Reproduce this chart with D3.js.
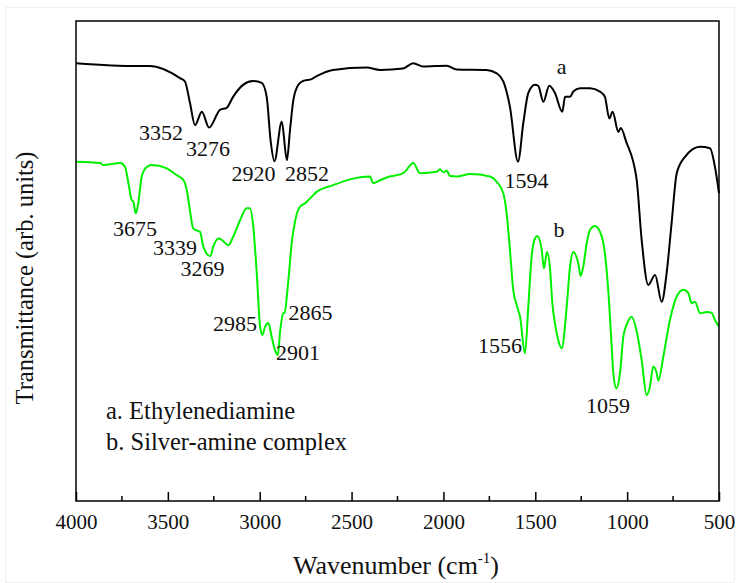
<!DOCTYPE html>
<html>
<head>
<meta charset="utf-8">
<script src="https://cdn.jsdelivr.net/npm/d3@7"></script>
<style>
  body { margin: 0; background: #fff; }
  svg text { font-family: "Liberation Serif", "Times New Roman", serif; fill: #111; }
</style>
</head>
<body>
<div id="graphic"></div>
<script>
// Spectrum a (ethylenediamine): [wavenumber, transmittance arb.]
const seriesA = [
  [4000, 91.2], [3668, 90.6], [3597, 90.6], [3434, 88.1], [3407, 87.4], [3380, 83],
  [3352, 78.3], [3315, 81.1], [3276, 77.8], [3216, 81.5], [3180, 81.9], [3145, 84.2],
  [3091, 86.7], [3037, 87.5], [2989, 87.1], [2962, 84.2], [2941, 75.2], [2920, 70.8],
  [2880, 79.0], [2852, 71.0], [2835, 77.3], [2817, 83.5], [2790, 86.7], [2764, 87.5],
  [2717, 87.9], [2690, 88.5], [2601, 89.8], [2418, 90.3], [2345, 89.8], [2220, 90.1],
  [2164, 91.2], [2111, 90.5], [1982, 90.7], [1928, 89.9], [1765, 89.8], [1710, 89.1],
  [1674, 87.4], [1638, 82.1], [1594, 70.7], [1565, 78.8], [1538, 85.0], [1502, 86.7],
  [1484, 86.5], [1456, 83.2], [1424, 86.5], [1393, 85.0], [1353, 81.1], [1338, 84.2],
  [1311, 84.2], [1293, 85.3], [1257, 86.0], [1202, 86.0], [1148, 85.3], [1121, 84.2],
  [1097, 79.7], [1079, 81.1], [1048, 76.9], [1035, 77.7], [1003, 74.6], [967, 70.7],
  [948, 66.9], [921, 54.4], [885, 45.0], [848, 47.1], [812, 41.5], [785, 47.5],
  [758, 57.9], [730, 68.3], [685, 71.7], [603, 73.8], [549, 73.5], [522, 69.6], [500, 64.1]
];

// Spectrum b (silver-amine complex)
const seriesB = [
  [4000, 70.7], [3869, 70.4], [3851, 70.0], [3760, 70.4], [3733, 69.6], [3715, 66.3],
  [3697, 62.7], [3688, 62.4], [3675, 59.9], [3661, 62.0], [3642, 67.6], [3615, 69.6],
  [3588, 70.0], [3506, 69.3], [3452, 67.9], [3416, 66.9], [3397, 64.8], [3379, 60.3],
  [3362, 56.8], [3339, 56.3], [3325, 56.1], [3307, 53.0], [3269, 51.0], [3253, 53.0],
  [3225, 54.7], [3207, 54.4], [3171, 53.3], [3144, 55.1], [3107, 58.5], [3071, 61.0],
  [3053, 61.0], [3035, 57.1], [3016, 47.4], [2998, 36.3], [2985, 34.6], [2971, 36.3],
  [2953, 37.1], [2935, 34.2], [2917, 31.5], [2901, 30.4], [2890, 34.9], [2872, 39.1],
  [2865, 39.2], [2844, 46.0], [2826, 53.7], [2808, 58.2], [2781, 61.3], [2754, 62.0],
  [2717, 63.4], [2690, 64.4], [2600, 65.8], [2509, 67.0], [2400, 67.6], [2382, 66.2],
  [2363, 66.5], [2309, 67.4], [2218, 68.3], [2164, 70.4], [2128, 68.3], [2037, 68.6],
  [2019, 69.1], [2001, 68.5], [1982, 68.8], [1964, 67.7], [1928, 67.6], [1855, 68.1],
  [1747, 67.6], [1710, 66.5], [1674, 64.1], [1656, 59.9], [1638, 52.3], [1620, 44.0],
  [1601, 40.8], [1583, 38.4], [1556, 30.8], [1538, 40.5], [1520, 50.9], [1502, 54.7],
  [1489, 55.2], [1465, 52.3], [1453, 48.5], [1436, 51.9], [1420, 48.5], [1407, 41.2],
  [1393, 37.0], [1375, 33.5], [1356, 31.8], [1329, 40.5], [1311, 48.8], [1293, 51.9],
  [1266, 49.5], [1253, 46.9], [1239, 48.8], [1220, 53.7], [1202, 56.5], [1175, 57.3],
  [1148, 56.1], [1121, 51.6], [1103, 44.0], [1084, 32.1], [1075, 26.6], [1059, 23.5],
  [1039, 26.6], [1021, 34.2], [1003, 36.7], [975, 38.4], [948, 35.3], [921, 29.4],
  [894, 22.1], [876, 23.8], [858, 28.0], [839, 26.6], [830, 25.1], [803, 30.1],
  [767, 37.7], [730, 42.6], [694, 44.0], [667, 43.3], [649, 41.2], [631, 41.5],
  [603, 39.1], [567, 39.4], [540, 39.2], [522, 37.7], [500, 36.3]
];

// Peak labels: [text, centre wavenumber of the label, baseline value]
const labelsA = [
  ["3352", 3537, 75.2], ["3276", 3282, 71.9],
  ["2920", 3034, 66.7], ["2852", 2743, 66.7],
  ["1594", 1548, 65.2], ["a", 1357, 89.0]
];
const labelsB = [
  ["3675", 3679, 55.2], ["3339", 3461, 51.25],
  ["3269", 3311, 46.9], ["2985", 3135, 35.4],
  ["2865", 2724, 37.7], ["2901", 2792, 29.4],
  ["1556", 1692, 30.8], ["b", 1371, 55.0],
  ["1059", 1104, 18.3]
];

const legendItems = ["a. Ethylenediamine", "b. Silver-amine complex"];
const xTicks = [4000, 3500, 3000, 2500, 2000, 1500, 1000, 500];

let width = 740, height = 583;
let plotLeft = 76, plotRight = 719, plotTop = 21, plotBottom = 501;

let svg = d3.select('#graphic').append('svg')
    .attr('width', width)
    .attr('height', height);

// faint outer border of the original image
svg.append('rect')
    .attr('x', 5.5).attr('y', 7.5)
    .attr('width', width - 11).attr('height', height - 8)
    .attr('fill', 'none').attr('stroke', '#f0f0f0');

let x = d3.scaleLinear().domain([4000, 500]).range([plotLeft, plotRight]);
let y = d3.scaleLinear().domain([0, 100]).range([plotBottom, plotTop]);

let line = d3.line()
    .x(d => x(d[0]))
    .y(d => y(d[1]))
    .curve(d3.curveMonotoneX);

svg.append('path').datum(seriesA)
    .attr('d', line)
    .attr('fill', 'none').attr('stroke', '#000').attr('stroke-width', 2);

svg.append('path').datum(seriesB)
    .attr('d', line)
    .attr('fill', 'none').attr('stroke', '#00f000').attr('stroke-width', 2);

// frame
svg.append('rect')
    .attr('x', plotLeft).attr('y', plotTop)
    .attr('width', plotRight - plotLeft).attr('height', plotBottom - plotTop)
    .attr('fill', 'none').attr('stroke', '#000').attr('stroke-width', 1.5);

// bottom axis with inward ticks
let axis = svg.append('g').attr('transform', `translate(0,${plotBottom})`);
axis.call(d3.axisBottom(x).tickValues(xTicks).tickSize(-9).tickFormat(d3.format('d')));
axis.select('.domain').remove();
axis.selectAll('.tick line').attr('stroke', '#000').attr('stroke-width', 1.5);
axis.selectAll('.tick text')
    .attr('y', 28).attr('dy', 0)
    .attr('fill', '#111')
    .style('font-size', '21px')
    .style('font-family', '"Liberation Serif", serif');

let minor = d3.range(3750, 500, -500);
svg.append('g').selectAll('line').data(minor).join('line')
    .attr('x1', d => x(d)).attr('x2', d => x(d))
    .attr('y1', plotBottom).attr('y2', plotBottom - 5)
    .attr('stroke', '#000').attr('stroke-width', 1.5);

function drawLabels(list) {
    svg.append('g').selectAll('text').data(list).join('text')
        .attr('x', d => x(d[1]))
        .attr('y', d => y(d[2]))
        .attr('text-anchor', 'middle')
        .style('font-size', '22px')
        .text(d => d[0]);
}
drawLabels(labelsA);
drawLabels(labelsB);

// legend text
svg.append('g').selectAll('text').data(legendItems).join('text')
    .attr('x', 106)
    .attr('y', (d, i) => 419 + i * 31)
    .style('font-size', '24.5px')
    .text(d => d);

// axis titles
let xt = svg.append('text')
    .attr('x', 396)
    .attr('y', 574)
    .attr('text-anchor', 'middle')
    .style('font-size', '26px');
xt.append('tspan').text('Wavenumber (cm');
xt.append('tspan').attr('dy', -11).style('font-size', '15px').text('-1');
xt.append('tspan').attr('dy', 11).text(')');

svg.append('text')
    .attr('transform', 'translate(33,278) rotate(-90)')
    .attr('text-anchor', 'middle')
    .style('font-size', '24.5px')
    .text('Transmittance (arb. units)');
</script>
</body>
</html>
